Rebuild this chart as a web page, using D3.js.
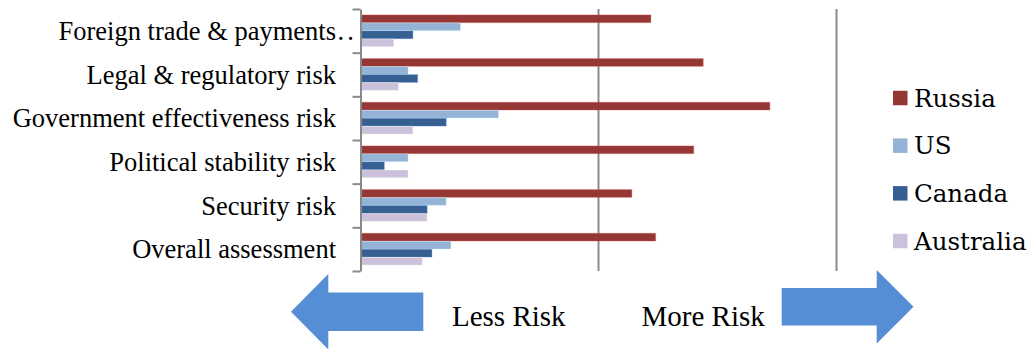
<!DOCTYPE html>
<html>
<head>
<meta charset="utf-8">
<script src="https://cdn.jsdelivr.net/npm/d3@7"></script>
<style>
  html, body { margin: 0; padding: 0; background: #fff; }
  svg { display: block; }
</style>
</head>
<body>
<svg id="chart" width="1031" height="349"></svg>
<script>
// Risk categories, listed top to bottom
const categories = [
  "Foreign trade & payments",
  "Legal & regulatory risk",
  "Government effectiveness risk",
  "Political stability risk",
  "Security risk",
  "Overall assessment"
];
const seriesNames = ["Russia", "US", "Canada", "Australia"];
const russia    = [61, 72, 86, 70, 57, 62];
const us        = [21, 10, 29, 10, 18, 19];
const canada    = [11, 12, 18,  5, 14, 15];
const australia = [ 7,  8, 11, 10, 14, 13];
const gridValues = [50, 100];
const colors = ["#953735", "#95b3d7", "#376092", "#ccc1da"];

const seriesValues = [russia, us, canada, australia];
const rows = categories.map((c, i) => ({
  category: c,
  values: seriesNames.map((s, j) => ({ series: s, value: seriesValues[j][i], color: colors[j] }))
}));

const svg = d3.select("#chart");

const plotTop = 9, plotBottom = 271;
const x = d3.scaleLinear().domain([0, 100]).range([360.5, 836.5]);
const y = d3.scaleBand().domain(categories).range([plotTop, plotBottom]).padding(0);
const ySeries = d3.scaleBand().domain(seriesNames).range([0, y.bandwidth()])
  .paddingInner(0.04).paddingOuter(0.74);

// Vertical gridlines behind the bars
svg.append("g").selectAll("line")
  .data(gridValues)
  .join("line")
  .attr("x1", d => x(d)).attr("x2", d => x(d))
  .attr("y1", plotTop).attr("y2", plotBottom)
  .attr("stroke", "#8c8c8c")
  .attr("stroke-width", 2);

// Bars
const groups = svg.append("g").selectAll("g")
  .data(rows)
  .join("g")
  .attr("transform", d => `translate(0,${y(d.category)})`);

groups.selectAll("rect")
  .data(d => d.values)
  .join("rect")
  .attr("x", x(0))
  .attr("y", d => ySeries(d.series))
  .attr("width", d => x(d.value) - x(0))
  .attr("height", ySeries.bandwidth())
  .attr("fill", d => d.color)
  .attr("stroke", d => d3.color(d.color).brighter(0.9))
  .attr("stroke-opacity", 0.35)
  .attr("stroke-width", 1);

// Category axis with ticks between the groups
const yEdge = d3.scaleLinear().domain([0, categories.length]).range([plotTop, plotBottom]);
const axis = svg.append("g")
  .attr("transform", `translate(${x(0)},0)`)
  .call(d3.axisLeft(yEdge)
    .tickValues(d3.range(categories.length + 1))
    .tickSize(8)
    .tickSizeOuter(0)
    .tickFormat(""));
axis.selectAll("path, line").attr("stroke", "#8a8a8a").attr("stroke-width", 2);

// Category labels
const labelEdge = 336;
const labels = svg.append("g").selectAll("text")
  .data(categories)
  .join("text")
  .attr("x", labelEdge)
  .attr("y", d => y(d) + y.bandwidth() / 2 + 9)
  .attr("text-anchor", "end")
  .attr("font-family", "'Liberation Serif', 'Times New Roman', serif")
  .attr("font-size", 26.5)
  .attr("fill", "#000")
  .text(d => d);
// The first label is cut short with a trailing ellipsis
labels.filter((d, i) => i === 0)
  .attr("text-anchor", "start")
  .each(function () {
    const t = d3.select(this);
    const full = t.text();
    t.text(null);
    t.append("tspan").text(full);
    t.append("tspan").attr("dx", 1.5).attr("letter-spacing", 3).text("..");
    const w = this.firstChild.getComputedTextLength();
    t.attr("x", labelEdge - w);
  });

// Legend
const legend = svg.append("g").attr("transform", "translate(893,0)");
const legendY = d3.scalePoint().domain(seriesNames).range([98, 241]);
legend.selectAll("rect")
  .data(seriesNames)
  .join("rect")
  .attr("x", 0)
  .attr("y", d => legendY(d) - 7.25)
  .attr("width", 14.5)
  .attr("height", 14.5)
  .attr("fill", (d, i) => colors[i]);
legend.selectAll("text")
  .data(seriesNames)
  .join("text")
  .attr("x", 21)
  .attr("y", d => legendY(d) + 8.6)
  .attr("font-family", "'DejaVu Serif', 'Liberation Serif', serif")
  .attr("font-size", 24.5)
  .attr("fill", "#000")
  .text(d => d);

// Direction arrows and captions below the chart
function arrowPoints(tipX, cy, headLen, headHalf, shaftLen, shaftHalf, dir) {
  const b = tipX - dir * headLen;          // head base
  const e = b - dir * shaftLen;            // shaft end
  return [
    [tipX, cy], [b, cy - headHalf], [b, cy - shaftHalf], [e, cy - shaftHalf],
    [e, cy + shaftHalf], [b, cy + shaftHalf], [b, cy + headHalf]
  ];
}
const arrows = [
  arrowPoints(291, 311.7, 37.3, 37.7, 95, 19.2, -1),
  arrowPoints(913.5, 306.8, 36.8, 36.7, 95, 18.7, 1)
];
svg.append("g").selectAll("polygon")
  .data(arrows)
  .join("polygon")
  .attr("points", d => d.map(p => p.join(",")).join(" "))
  .attr("fill", "#558ed5");

const captions = [
  { text: "Less Risk", x: 452, y: 326 },
  { text: "More Risk", x: 641.5, y: 325.5 }
];
svg.append("g").selectAll("text")
  .data(captions)
  .join("text")
  .attr("x", d => d.x)
  .attr("y", d => d.y)
  .attr("font-family", "'Liberation Serif', 'Times New Roman', serif")
  .attr("font-size", 29)
  .attr("fill", "#000")
  .text(d => d.text);
</script>
</body>
</html>
